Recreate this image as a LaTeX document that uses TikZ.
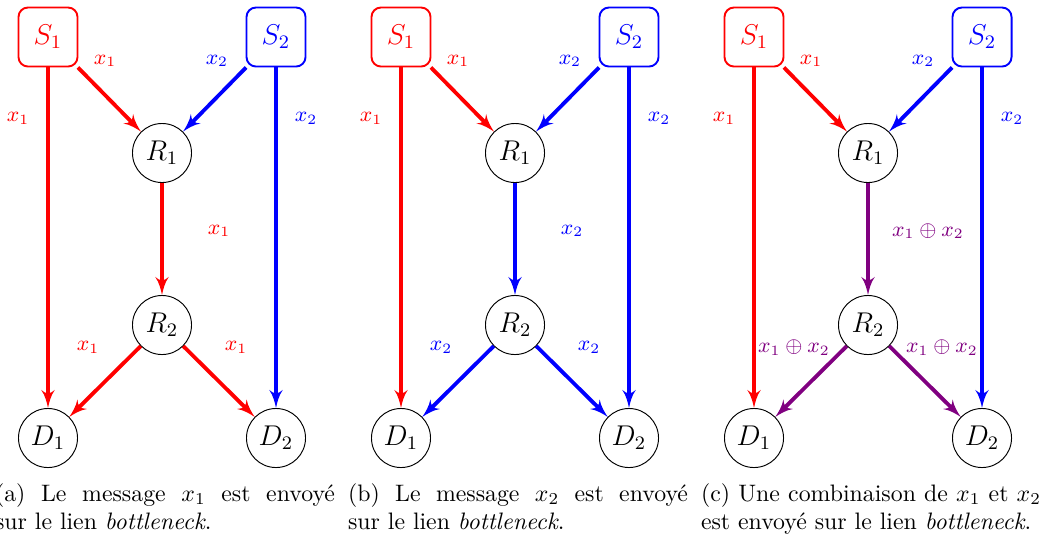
\documentclass[tikz,border=0pt]{standalone}
\usepackage{amsmath}
\usepackage{amssymb}
\usepackage{tikz}
\usetikzlibrary{arrows}
\definecolor{mixcol}{RGB}{128,0,128}

\begin{document}
\begin{tikzpicture}[
    x=0.42pt, y=-0.42pt,
    source/.style={rectangle, rounded corners, draw, thick, minimum size=24.8pt, inner sep=0pt, font=\large},
    relay/.style={circle, draw, minimum size=24.8pt, inner sep=0pt, font=\large},
    flow/.style={-latex', ultra thick},
    lbl/.style={font=\small},
    caption/.style={text width=142.8pt, align=justify, inner sep=0pt, anchor=north}
]
    \useasboundingbox (0,0) rectangle (1041,537);

    % (a) x1 on the bottleneck
    \begin{scope}
        \node[source, red] (s1a) at (48,37) {$S_1$};
        \node[source, blue] (s2a) at (276,37) {$S_2$};
        \node[relay] (r1a) at (162,153) {$R_1$};
        \node[relay] (r2a) at (162,325) {$R_2$};
        \node[relay] (d1a) at (48,438) {$D_1$};
        \node[relay] (d2a) at (276,438) {$D_2$};

        \draw[flow, red] (s1a) -- node[lbl, pos=.2, shift={(14.5,-19.2)}] {$x_1$} (r1a);
        \draw[flow, red] (s1a) -- node[lbl, pos=.15, shift={(-30,0)}] {$x_1$} (d1a);
        \draw[flow, blue] (s2a) -- node[lbl, pos=.2, shift={(-16.5,-19.2)}] {$x_2$} (r1a);
        \draw[flow, blue] (s2a) -- node[lbl, pos=.15, shift={(30,0)}] {$x_2$} (d2a);
        \draw[flow, red] (r1a) -- node[lbl, pos=.5, shift={(57,-8)}] {$x_1$} (r2a);
        \draw[flow, red] (r2a) -- node[lbl, pos=.5, shift={(-17,-34)}] {$x_1$} (d1a);
        \draw[flow, red] (r2a) -- node[lbl, pos=.5, shift={(17,-34)}] {$x_1$} (d2a);

        \node[caption] (capa) at (165,483) {(a) Le message $x_1$ est envoyé\linebreak sur le lien \emph{bottleneck}.};
    \end{scope}

    % (b) x2 on the bottleneck
    \begin{scope}[shift={(353,0)}]
        \node[source, red] (s1b) at (48,37) {$S_1$};
        \node[source, blue] (s2b) at (276,37) {$S_2$};
        \node[relay] (r1b) at (162,153) {$R_1$};
        \node[relay] (r2b) at (162,325) {$R_2$};
        \node[relay] (d1b) at (48,438) {$D_1$};
        \node[relay] (d2b) at (276,438) {$D_2$};

        \draw[flow, red] (s1b) -- node[lbl, pos=.2, shift={(14.5,-19.2)}] {$x_1$} (r1b);
        \draw[flow, red] (s1b) -- node[lbl, pos=.15, shift={(-30,0)}] {$x_1$} (d1b);
        \draw[flow, blue] (s2b) -- node[lbl, pos=.2, shift={(-16.5,-19.2)}] {$x_2$} (r1b);
        \draw[flow, blue] (s2b) -- node[lbl, pos=.15, shift={(30,0)}] {$x_2$} (d2b);
        \draw[flow, blue] (r1b) -- node[lbl, pos=.5, shift={(57,-8)}] {$x_2$} (r2b);
        \draw[flow, blue] (r2b) -- node[lbl, pos=.5, shift={(-17,-34)}] {$x_2$} (d1b);
        \draw[flow, blue] (r2b) -- node[lbl, pos=.5, shift={(17,-34)}] {$x_2$} (d2b);

        \node[caption] (capb) at (165,483) {(b) Le message $x_2$ est envoyé\linebreak sur le lien \emph{bottleneck}.};
    \end{scope}

    % (c) x1 xor x2 on the bottleneck
    \begin{scope}[shift={(706,0)}]
        \node[source, red] (s1c) at (48,37) {$S_1$};
        \node[source, blue] (s2c) at (276,37) {$S_2$};
        \node[relay] (r1c) at (162,153) {$R_1$};
        \node[relay] (r2c) at (162,325) {$R_2$};
        \node[relay] (d1c) at (48,438) {$D_1$};
        \node[relay] (d2c) at (276,438) {$D_2$};

        \draw[flow, red] (s1c) -- node[lbl, pos=.2, shift={(14.5,-19.2)}] {$x_1$} (r1c);
        \draw[flow, red] (s1c) -- node[lbl, pos=.15, shift={(-30,0)}] {$x_1$} (d1c);
        \draw[flow, blue] (s2c) -- node[lbl, pos=.2, shift={(-16.5,-19.2)}] {$x_2$} (r1c);
        \draw[flow, blue] (s2c) -- node[lbl, pos=.15, shift={(30,0)}] {$x_2$} (d2c);
        \draw[flow, mixcol] (r1c) -- node[lbl, pos=.5, shift={(60,-8)}] {$x_1 \oplus x_2$} (r2c);
        \draw[flow, mixcol] (r2c) -- node[lbl, pos=.5, shift={(-17,-34)}] {$x_1 \oplus x_2$} (d1c);
        \draw[flow, mixcol] (r2c) -- node[lbl, pos=.5, shift={(17,-34)}] {$x_1 \oplus x_2$} (d2c);

        \node[caption] (capc) at (165,483) {(c) Une combinaison de $x_1$ et $x_2$\linebreak est envoyé sur le lien \emph{bottleneck}.};
    \end{scope}
\end{tikzpicture}
\end{document}
